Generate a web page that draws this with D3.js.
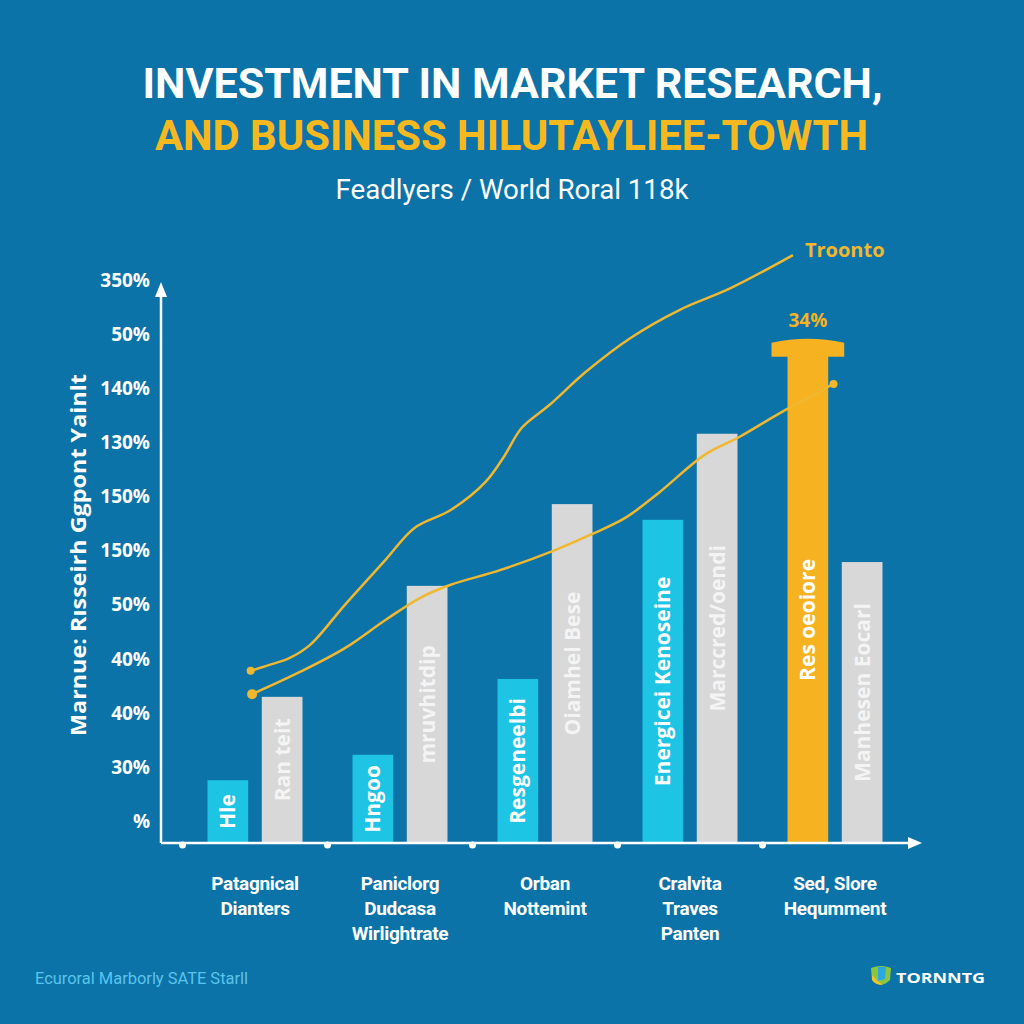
<!DOCTYPE html>
<html><head><meta charset="utf-8">
<script src="https://cdnjs.cloudflare.com/ajax/libs/d3/7.8.5/d3.min.js"></script>
<style>html,body{margin:0;padding:0;background:#0b73a8;}svg{display:block;}</style>
</head><body><svg id="c" width="1024" height="1024"></svg>
<script>
// ---------- data ----------
const categories = [
  ["Patagnical","Dianters"],
  ["Paniclorg","Dudcasa","Wirlightrate"],
  ["Orban","Nottemint"],
  ["Cralvita","Traves","Panten"],
  ["Sed, Slore","Hequmment"]
];
const barValuesA = [0.76, 1.23, 2.63, 5.57, 8.95];   // cyan / highlighted
const barValuesB = [2.30, 4.35, 5.86, 7.16, 4.79];   // gray
const barLabelsA = ["Hle","Hngoo","Resgeneelbi","Energicei Kenoseine","Res oeoiore"];
const barLabelsB = ["Ran teit","mruvhitdip","Oiamhel Bese","Marccred/oendi","Manhesen Eocarl"];
const highlightIndex = 4;
const highlightLabel = "34%";
const yTickLabels = ["%","30%","40%","40%","50%","150%","150%","130%","140%","50%","350%"];
// line series: [group position, value]
const lineUpper = [[-0.03,2.78],[0.10,2.89],[0.24,3.02],[0.38,3.26],[0.62,4.00],[0.90,4.83],[1.10,5.42],[1.35,5.75],[1.59,6.27],[1.72,6.75],[1.84,7.27],[2.03,7.69],[2.28,8.30],[2.59,8.93],[2.93,9.45],[3.28,9.85],[3.71,10.46]];
const lineLower = [[-0.02,2.35],[0.31,2.76],[0.62,3.20],[0.90,3.72],[1.14,4.13],[1.35,4.37],[1.69,4.64],[2.07,5.01],[2.31,5.29],[2.55,5.60],[2.79,6.08],[3.10,6.77],[3.34,7.10],[3.62,7.54],[3.99,8.08]];
const lineUpperName = "Troonto";
const title1 = "INVESTMENT IN MARKET RESEARCH,";
const title2 = "AND BUSINESS HILUTAYLIEE-TOWTH";
const subtitle = "Feadlyers / World Roral 118k";
const yAxisTitle = "Marnue: Rısseirh Ggpont Yainlt";
const footer = "Ecuroral Marborly SATE Starll";
const brand = "TORNNTG";

// ---------- colors ----------
const BG="#0b73a8", CYAN="#1ec4e4", GRAY="#d8d8d8", ORANGE="#f6b221", YEL="#f0b72f", FOOT="#5cc3ec";

const svg = d3.select("#c");
svg.append("rect").attr("width",1024).attr("height",1024).attr("fill",BG);

// ---------- scales ----------
const x = d3.scaleBand().domain(d3.range(categories.length)).range([182.5,907.5]).paddingInner(0.345).paddingOuter(0.1725);
const xs = d3.scaleBand().domain([0,1]).range([0,x.bandwidth()]).paddingInner(0.25);
const xl = d3.scaleLinear().domain([0,categories.length-1]).range([x(0)+x.bandwidth()/2, x(categories.length-1)+x.bandwidth()/2]);
const y = d3.scaleLinear().domain([-0.4,10]).range([843,280]);
const base = y(-0.4);

// ---------- titles ----------
svg.append("text").attr("x",512.5).attr("y",98).attr("text-anchor","middle")
  .attr("font-family","Roboto").attr("font-weight",700).attr("font-size",43).attr("fill","#ffffff")
  .attr("textLength",740).attr("lengthAdjust","spacingAndGlyphs").text(title1);
svg.append("text").attr("x",511.5).attr("y",150).attr("text-anchor","middle")
  .attr("font-family","Roboto").attr("font-weight",700).attr("font-size",43).attr("fill","#f6b81f")
  .attr("textLength",713).attr("lengthAdjust","spacingAndGlyphs").text(title2);
svg.append("text").attr("x",512).attr("y",199).attr("text-anchor","middle")
  .attr("font-family","Roboto").attr("font-weight",400).attr("font-size",27).attr("fill","#ffffff")
  .attr("textLength",353).attr("lengthAdjust","spacingAndGlyphs").text(subtitle);

// ---------- y axis ----------
const yAxis = d3.axisLeft(y).tickValues(d3.range(0,11)).tickFormat(i=>yTickLabels[i]).tickSize(0).tickPadding(11);
const ga = svg.append("g").attr("transform","translate(161,0)").call(yAxis);
ga.select(".domain").remove();
ga.selectAll("text").attr("font-family","Open Sans").attr("font-weight",700).attr("font-size",19).attr("fill","#ffffff");
svg.append("line").attr("x1",161).attr("x2",161).attr("y1",base).attr("y2",292).attr("stroke","#fff").attr("stroke-width",2.5);
svg.append("path").attr("d",`M161,282 L155,297 L167,297 Z`).attr("fill","#fff");
svg.append("text").attr("transform",`translate(86,555) rotate(-90)`).attr("text-anchor","middle")
  .attr("font-family","Open Sans").attr("font-weight",700).attr("font-size",22).attr("fill","#fff")
  .attr("textLength",362).attr("lengthAdjust","spacingAndGlyphs").text(yAxisTitle);

// ---------- bars ----------
const groups = svg.append("g").selectAll("g").data(categories).join("g")
  .attr("transform",(d,i)=>`translate(${x(i)},0)`);

groups.each(function(d,i){
  const g = d3.select(this);
  const bw = xs.bandwidth();
  // bar A
  if(i===highlightIndex){
    const top = y(barValuesA[i]);
    const x0 = xs(0), x1 = xs(0)+bw;
    g.append("rect").attr("x",x0).attr("y",top+18).attr("width",bw).attr("height",base-top-18).attr("fill",ORANGE);
    g.append("path").attr("d",`M${x0-16},${top+20} L${x0-16},${top+6} Q${x0+bw/2},${top-2} ${x1+16},${top+6} L${x1+16},${top+20} Z`).attr("fill",ORANGE);
    g.append("text").attr("x",x0+bw/2).attr("y",top-10).attr("text-anchor","middle")
      .attr("font-family","Open Sans").attr("font-weight",700).attr("font-size",19).attr("fill",ORANGE).text(highlightLabel);
  } else {
    g.append("rect").attr("x",xs(0)).attr("y",y(barValuesA[i])).attr("width",bw).attr("height",base-y(barValuesA[i])).attr("fill",CYAN);
  }
  g.append("rect").attr("x",xs(1)).attr("y",y(barValuesB[i])).attr("width",bw).attr("height",base-y(barValuesB[i])).attr("fill",GRAY);
  // bar labels
  const midA = i===highlightIndex ? (y(barValuesA[i])+base)/2+30 : (y(barValuesA[i])+base)/2;
  const midB = (y(barValuesB[i])+base)/2 - 10;
  g.append("text").attr("transform",`translate(${xs(0)+bw/2},${midA}) rotate(-90)`)
    .attr("text-anchor","middle").attr("dy","0.36em")
    .attr("font-family","Open Sans").attr("font-weight",700).attr("font-size",21).attr("fill","#ffffff").text(barLabelsA[i]);
  g.append("text").attr("transform",`translate(${xs(1)+bw/2},${midB}) rotate(-90)`)
    .attr("text-anchor","middle").attr("dy","0.36em")
    .attr("font-family","Open Sans").attr("font-weight",700).attr("font-size",21).attr("fill","#f4f4f4").text(barLabelsB[i]);
  // x labels
  const t = g.append("text").attr("text-anchor","middle").attr("font-family","Roboto").attr("font-weight",700)
    .attr("font-size",19).attr("fill","#ffffff").attr("letter-spacing","-0.3");
  d.forEach((ln,k)=>t.append("tspan").attr("x",x.bandwidth()/2).attr("y",890+k*25).text(ln));
});

// ---------- x axis ----------
svg.append("line").attr("x1",161).attr("x2",912).attr("y1",base).attr("y2",base).attr("stroke","#fff").attr("stroke-width",2.5);
svg.append("path").attr("d",`M922,${base} L908,${base-6} L908,${base+6} Z`).attr("fill","#fff");
svg.append("g").selectAll("circle").data(categories).join("circle")
  .attr("cx",(d,i)=>x(i)-(x.step()-x.bandwidth())/2).attr("cy",base+2).attr("r",3.5).attr("fill","#fff");

// ---------- lines ----------
const line = d3.line().x(d=>xl(d[0])).y(d=>y(d[1])).curve(d3.curveCatmullRom.alpha(0.5));
svg.append("path").datum(lineUpper).attr("d",line).attr("fill","none").attr("stroke",YEL).attr("stroke-width",2.5);
svg.append("path").datum(lineLower).attr("d",line).attr("fill","none").attr("stroke",YEL).attr("stroke-width",2.5);
svg.append("circle").attr("cx",xl(lineUpper[0][0])).attr("cy",y(lineUpper[0][1])).attr("r",4).attr("fill",YEL);
svg.append("circle").attr("cx",xl(lineLower[0][0])).attr("cy",y(lineLower[0][1])).attr("r",5).attr("fill",YEL);
const lastL = lineLower[lineLower.length-1];
svg.append("circle").attr("cx",xl(lastL[0])).attr("cy",y(lastL[1])).attr("r",4).attr("fill",YEL);
const lastU = lineUpper[lineUpper.length-1];
svg.append("text").attr("x",xl(lastU[0])+12).attr("y",y(lastU[1])+2).attr("font-family","Open Sans").attr("font-weight",700)
  .attr("font-size",20).attr("fill",YEL).text(lineUpperName);

// ---------- footer ----------
svg.append("text").attr("x",35).attr("y",984).attr("font-family","Roboto").attr("font-weight",400).attr("font-size",17)
  .attr("fill",FOOT).attr("textLength",213).attr("lengthAdjust","spacingAndGlyphs").text(footer);
const logo = svg.append("g").attr("transform","translate(881,977)");
logo.append("path").attr("d","M-10,-9 Q0,-13 10,-9 L9,3 Q0,12 -9,3 Z").attr("fill","#8cc63f");
logo.append("path").attr("d","M-3,-10 L5,-10 L4,2 L-3,4 Z").attr("fill","#2aa9e0");
logo.append("path").attr("d","M-9,-2 Q-4,4 2,8 Q-6,8 -9,3 Z").attr("fill","#f2c12e");
svg.append("text").attr("x",896).attr("y",983).attr("font-family","Open Sans").attr("font-weight",700).attr("font-size",15)
  .attr("fill","#fff").attr("textLength",89).attr("lengthAdjust","spacingAndGlyphs").text(brand);
</script></body></html>
